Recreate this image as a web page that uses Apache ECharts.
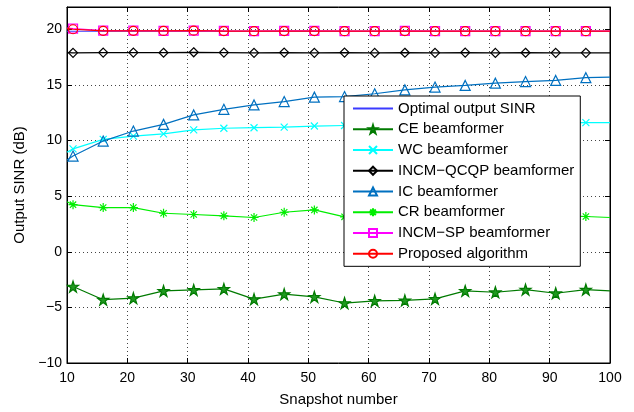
<!DOCTYPE html>
<html><head><meta charset="utf-8">
<script src="https://cdn.jsdelivr.net/npm/echarts@6/dist/echarts.min.js"></script>
<style>html,body{margin:0;padding:0;background:#fff}#c{width:634px;height:412px}</style>
</head><body><div id="c"></div>
<script>
// x positions of data (line ends at 10 and 100, markers at 11..96)
const snapshots = [10, 11, 16, 21, 26, 31, 36, 41, 46, 51, 56, 61, 66, 71, 76, 81, 86, 91, 96, 100];
const xTicks = [10, 20, 30, 40, 50, 60, 70, 80, 90, 100];
const yTicks = [-10, -5, 0, 5, 10, 15, 20];

const optimalSINR = [19.82, 19.82, 19.82, 19.82, 19.82, 19.82, 19.82, 19.82, 19.82, 19.82, 19.82, 19.82, 19.82, 19.82, 19.82, 19.82, 19.82, 19.82, 19.82, 19.82];
const ceBeamformer = [-3.07, -3.13, -4.31, -4.17, -3.52, -3.43, -3.34, -4.26, -3.81, -4.05, -4.61, -4.41, -4.37, -4.23, -3.52, -3.64, -3.40, -3.73, -3.40, -3.52];
const wcBeamformer = [8.95, 9.25, 10.1, 10.4, 10.6, 10.95, 11.1, 11.15, 11.2, 11.3, 11.35, 11.4, 11.42, 11.45, 11.5, 11.52, 11.55, 11.58, 11.6, 11.6];
const incmQcqp = [17.9, 17.88, 17.9, 17.9, 17.89, 17.93, 17.9, 17.88, 17.9, 17.88, 17.9, 17.87, 17.89, 17.88, 17.9, 17.87, 17.89, 17.88, 17.88, 17.88];
const icBeamformer = [8.25, 8.6, 9.95, 10.85, 11.45, 12.3, 12.8, 13.2, 13.5, 13.9, 13.95, 14.2, 14.55, 14.8, 14.95, 15.15, 15.3, 15.4, 15.65, 15.7];
const crBeamformer = [4.5, 4.23, 3.97, 3.97, 3.46, 3.35, 3.23, 3.08, 3.55, 3.76, 3.14, 3.4, 3.3, 3.5, 3.3, 3.6, 3.4, 3.3, 3.17, 3.08];
const incmSp = [20.1, 20.05, 19.88, 19.87, 19.86, 19.88, 19.85, 19.84, 19.85, 19.85, 19.84, 19.84, 19.85, 19.84, 19.84, 19.84, 19.84, 19.84, 19.84, 19.84];
const proposed = [20.05, 20.0, 19.86, 19.86, 19.85, 19.87, 19.84, 19.83, 19.84, 19.84, 19.83, 19.83, 19.84, 19.83, 19.83, 19.83, 19.83, 19.83, 19.83, 19.83];

const FONT = 'Liberation Sans, Arial, Helvetica, sans-serif';
const PENTAGRAM = 'path://M0,-1L0.2245,-0.309L0.951,-0.309L0.363,0.118L0.588,0.809L0,0.382L-0.588,0.809L-0.363,0.118L-0.951,-0.309L-0.2245,-0.309Z';
const ASTERISK = 'path://M0,-1L0,1M-1,0L1,0M-0.7,-0.7L0.7,0.7M-0.7,0.7L0.7,-0.7';
const XMARK = 'path://M-1,-1L1,1M-1,1L1,-1';

function pts(vals) {
  return snapshots.map((x, i) => {
    const v = [x, vals[i]];
    if (i === 0 || i === snapshots.length - 1) return { value: v, symbol: 'none' };
    return v;
  });
}
function mk(name, vals, color, symbol, size, z, fill) {
  return {
    name, type: 'line', data: pts(vals), z: z,
    symbol: symbol || 'none', symbolSize: size || 8, showSymbol: !!symbol,
    lineStyle: { color, width: 1.2 },
    itemStyle: { color: fill || 'rgba(0,0,0,0)', borderColor: color, borderWidth: 1.2 },
    emphasis: { disabled: true }, animation: false
  };
}

const series = [
  mk('Optimal output SINR', optimalSINR, '#3b3bff', null, 0, 2),
  mk('CE beamformer', ceBeamformer, '#007a00', PENTAGRAM, 11, 3, '#1f9a1f'),
  mk('WC beamformer', wcBeamformer, '#00ffff', XMARK, 7, 4),
  mk('INCM\u2212QCQP beamformer', incmQcqp, '#000000', 'diamond', 9, 5),
  mk('IC beamformer', icBeamformer, '#0070c0', 'triangle', 10, 6),
  mk('CR beamformer', crBeamformer, '#00ee00', ASTERISK, 9, 7),
  mk('INCM\u2212SP beamformer', incmSp, '#ff00ff', 'rect', 9, 8),
  mk('Proposed algorithm', proposed, '#ff0000', 'circle', 9, 9)
];

const legendData = series.map((s, i) => i === 0
  ? { name: s.name, itemStyle: { color: 'rgba(0,0,0,0)', borderColor: 'rgba(0,0,0,0)', borderWidth: 0, opacity: 0 } }
  : { name: s.name });

const splitStyle = { show: true, lineStyle: { color: '#444', width: 1, type: [1, 3] } };
const chart = echarts.init(document.getElementById('c'), null, { renderer: 'canvas' });
chart.setOption({
  backgroundColor: '#fff',
  animation: false,
  grid: { left: 67, right: 24, top: 7, bottom: 45, show: true, borderColor: '#000', borderWidth: 1, backgroundColor: 'transparent' },
  legend: {
    orient: 'vertical', left: 344, top: 96, z: 50,
    padding: [5, 6, 5, 8], itemGap: 5.76, itemWidth: 40, itemHeight: 10,
    backgroundColor: '#fff', borderColor: '#000', borderWidth: 1,
    textStyle: { fontFamily: FONT, fontSize: 15, color: '#000', lineHeight: 14 },
    data: legendData, selectedMode: false
  },
  xAxis: [{
    type: 'value', min: xTicks[0], max: xTicks[xTicks.length - 1], interval: 10,
    name: 'Snapshot number', nameLocation: 'middle', nameGap: 29,
    nameTextStyle: { fontFamily: FONT, fontSize: 15, color: '#000' },
    axisLine: { show: true, onZero: false, lineStyle: { color: '#000', width: 1 } },
    axisTick: { show: true, inside: true, length: 5, lineStyle: { color: '#000' } },
    axisLabel: { fontFamily: FONT, fontSize: 14, color: '#000', margin: 8 },
    splitLine: splitStyle
  }, {
    type: 'value', position: 'top', min: xTicks[0], max: xTicks[xTicks.length - 1], interval: 10,
    axisLine: { show: true, onZero: false, lineStyle: { color: '#000' } },
    axisTick: { show: true, inside: true, length: 5, lineStyle: { color: '#000' } },
    axisLabel: { show: false }, splitLine: { show: false }
  }],
  yAxis: [{
    type: 'value', min: yTicks[0], max: 22, interval: 5,
    name: 'Output SINR (dB)', nameLocation: 'middle', nameGap: 32,
    nameTextStyle: { fontFamily: FONT, fontSize: 15, color: '#000' },
    axisLine: { show: true, onZero: false, lineStyle: { color: '#000', width: 1 } },
    axisTick: { show: true, inside: true, length: 5, lineStyle: { color: '#000' } },
    axisLabel: { fontFamily: FONT, fontSize: 14, color: '#000', margin: 5,
      formatter: v => (yTicks.indexOf(v) >= 0 ? String(v).replace('-', '\u2212') : '') },
    splitLine: splitStyle
  }, {
    type: 'value', position: 'right', min: yTicks[0], max: 22, interval: 5,
    axisLine: { show: true, onZero: false, lineStyle: { color: '#000' } },
    axisTick: { show: true, inside: true, length: 5, lineStyle: { color: '#000' } },
    axisLabel: { show: false }, splitLine: { show: false }
  }],
  series: series
});
</script></body></html>
